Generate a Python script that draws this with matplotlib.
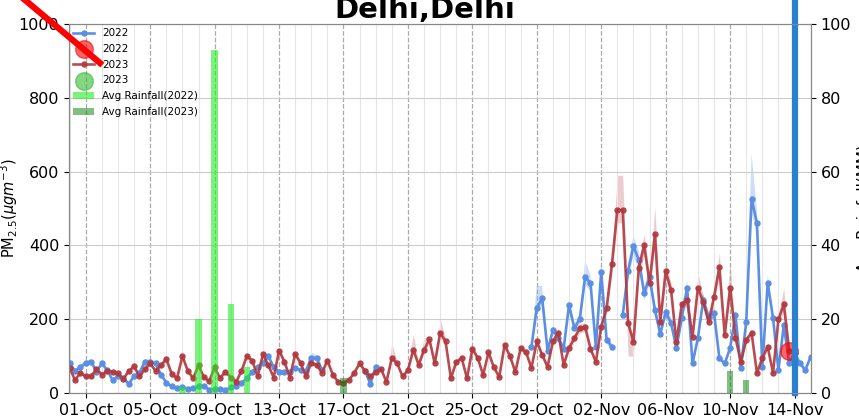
import numpy as np
import pandas as pd
import matplotlib
matplotlib.use('Agg')
import matplotlib.pyplot as plt
import matplotlib.dates as mdates
from matplotlib.lines import Line2D

nan = np.nan

# 8-hourly readings starting 30-Sep
times = pd.date_range('2023-09-30', periods=139, freq='8h')

pm_2022 = [80, 60, 70, 82, 85, 58, 80, 62, 35, 45,
           40, 25, 45, 55, 85, 85, 80, 50, 28, 18,
           14, 16, 12, 14, 18, 18, 9, 10, 10, 8,
           15, 20, 27, 40, 57, 70, 80, 100, 70, 57,
           57, 57, 68, 62, 60, 95, 95, 62, nan, nan,
           nan, nan, nan, nan, nan, 60, 25, 70, nan, nan,
           nan, nan, nan, nan, nan, nan, nan, nan, nan, nan,
           nan, nan, nan, nan, nan, nan, nan, nan, nan, nan,
           nan, nan, nan, nan, nan, nan, 125, 230, 257, 115,
           170, 150, 120, 238, 176, 200, 314, 298, 125, 328,
           144, 125, nan, 211, 330, 398, 360, 270, 314, 225,
           160, 219, 190, 122, 203, 285, 80, 149, 252, 206,
           217, 95, 80, 122, 211, 68, 192, 526, 461, 70,
           298, 203, 62, 184, 81, 108, 81, 62, 98]

pm_2023 = [68, 35, 55, 45, 45, 65, 50, 60, 57, 54,
           38, 60, 72, 45, 65, 80, 60, 75, 92, 52,
           40, 100, 60, 40, 75, 43, 32, 70, 40, 58,
           42, 30, 60, 100, 88, 45, 105, 75, 42, 115,
           85, 42, 105, 82, 45, 82, 76, 55, 88, 50,
           30, 28, 35, 55, 80, 60, 45, 57, 65, 30,
           95, 80, 45, 62, 117, 76, 117, 145, 80, 163,
           140, 40, 84, 95, 40, 120, 95, 49, 110, 70,
           43, 130, 100, 57, 122, 110, 68, 140, 103, 71,
           140, 163, 76, 122, 149, 175, 179, 120, 84, 180,
           230, 350, 496, 496, 190, 138, 340, 401, 298, 430,
           192, 330, 279, 138, 240, 252, 152, 285, 247, 192,
           260, 341, 157, 285, 150, 84, 144, 163, 54, 95,
           125, 54, 200, 240, 114]

# upper / lower edges of the shaded spread where it sticks out
peaks_2022 = {45: 110, 87: 290, 88: 290, 96: 360, 99: 360, 127: 650, 130: 320}
peaks_2023 = {60: 135, 64: 160, 66: 150, 69: 200, 99: 200, 102: 590, 103: 590,
              107: 430, 109: 505, 117: 325, 121: 380, 123: 352, 133: 285}
lows_2023 = {104: 100, 105: 100}

rain_2022_days = ['2023-10-07', '2023-10-08', '2023-10-09', '2023-10-10', '2023-10-11']
rain_2022 = [1.5, 20, 93, 24, 7]
rain_2023_days = ['2023-10-17', '2023-11-10', '2023-11-11']
rain_2023 = [4, 6, 3.5]

blue = '#5a8fe3'
red = '#b23a40'

t22 = times[:len(pm_2022)]
t23 = times[:len(pm_2023)]
v22 = np.array(pm_2022, dtype=float)
v23 = np.array(pm_2023, dtype=float)
hi22, lo22 = v22 * 1.07, v22 * 0.93
hi23, lo23 = v23 * 1.07, v23 * 0.93
for k, v in peaks_2022.items():
    hi22[k] = v
for k, v in peaks_2023.items():
    hi23[k] = v
for k, v in lows_2023.items():
    lo23[k] = v

fig = plt.figure(figsize=(8.59, 4.18), dpi=100)
ax = fig.add_axes([0.0803, 0.0598, 0.8638, 0.8828])

ax.fill_between(t22, lo22, hi22, color=blue, alpha=0.3, lw=0)
l1, = ax.plot(t22, v22, '-o', color=blue, lw=1.9, ms=3.6, label='2022')
s1 = ax.scatter([t23[-1]], [v23[-1]], s=160, color='red', alpha=0.6, zorder=6, label='2022')
ax.fill_between(t23, lo23, hi23, color=red, alpha=0.25, lw=0)
l2, = ax.plot(t23, v23, '-o', color=red, lw=1.9, ms=3.6, alpha=0.9, label='2023')
s2 = ax.scatter([], [], s=160, color='#33bb33', alpha=0.6, label='2023')

ax.axvline(pd.Timestamp('2023-11-14'), ymin=0, ymax=1.07, color='#2a80d0', lw=4.5,
           clip_on=False, zorder=7)

ax.set_ylim(0, 1000)
ax.set_yticks(range(0, 1001, 200))
ax.set_xlim(pd.Timestamp('2023-09-29 23:00'), pd.Timestamp('2023-11-15 00:30'))
ax.set_xticks(pd.date_range('2023-10-01', '2023-11-14', freq='4D'))
ax.xaxis.set_major_formatter(mdates.DateFormatter('%d-%b'))
ax.xaxis.set_minor_locator(mdates.DayLocator())
ax.grid(axis='y', color='#cccccc', lw=0.8)
ax.grid(axis='x', which='major', ls='--', color='#aaaaaa', lw=0.9)
ax.grid(axis='x', which='minor', color='#e6e6e6', lw=0.8)
ax.tick_params(labelsize=11.5)
ax.tick_params(axis='x', which='minor', length=0)
ax.set_ylabel(r'PM$_{2.5}$($\mu gm^{-3}$)', fontsize=10.5)
ax.yaxis.set_label_coords(-0.066, 0.5)
for sp in ax.spines.values():
    sp.set_color('#888888')

ax2 = ax.twinx()
b1 = ax2.bar(pd.to_datetime(rain_2022_days), rain_2022, width=0.4, color='#22ee22',
             alpha=0.6, label='Avg Rainfall(2022)')
b2 = ax2.bar(pd.to_datetime(rain_2023_days), rain_2023, width=0.4, color='green',
             alpha=0.5, label='Avg Rainfall(2023)')
ax2.set_ylim(0, 100)
ax2.set_yticks(range(0, 101, 20))
ax2.tick_params(labelsize=11.5)
ax2.set_ylabel('Avg Rainfall(MM)', fontsize=11)
for sp in ax2.spines.values():
    sp.set_color('#888888')

ax2.legend([l1, s1, l2, s2, b1, b2],
           ['2022', '2022', '2023', '2023', 'Avg Rainfall(2022)', 'Avg Rainfall(2023)'],
           loc='upper left', frameon=False, fontsize=7.5, borderpad=0.2,
           borderaxespad=0.2, labelspacing=0.55)

# title sits high, its top runs off the figure
fig.text(0.495, 1 - 18 / 418, 'Delhi,Delhi', ha='center', va='baseline',
         fontsize=21, fontweight='bold')

# red pointer line in the corner
fig.add_artist(Line2D([0, 100 / 859], [1 + 21 / 418, 1 - 63 / 418], color='red', lw=4.5))

fig.savefig('out.png', dpi=100)
